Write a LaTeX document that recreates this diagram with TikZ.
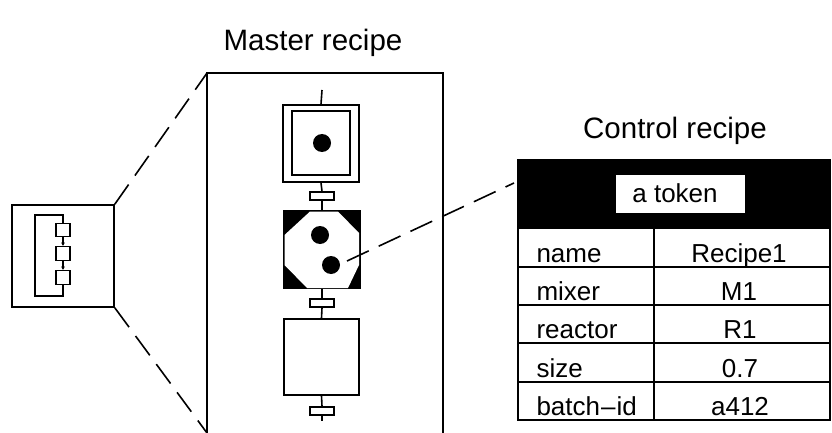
\documentclass[tikz,border=0pt]{standalone}
\usepackage{fontspec}
\setmainfont{Liberation Sans}
\usetikzlibrary{arrows.meta}
\begin{document}
\begin{tikzpicture}[x=1pt,y=-1pt,
  ln/.style={line width=1.6pt},
  thin/.style={line width=1.1pt},
  dashln/.style={line width=1.6pt, dash pattern=on 24pt off 11pt},
  stepbox/.style={draw, line width=1.6pt, rectangle, inner sep=0pt, fill=white},
  trans/.style={draw, line width=1.4pt, rectangle, inner sep=0pt, minimum width=24pt, minimum height=8pt, fill=white},
  tok/.style={circle, fill=black, inner sep=0pt, minimum size=18pt},
  title/.style={font=\fontsize{29.5}{34}\selectfont, anchor=base},
  cell/.style={font=\fontsize{26}{30}\selectfont, anchor=base},
  mini/.style={draw, line width=1.2pt, rectangle, inner sep=0pt, minimum width=14pt, minimum height=13.5pt}
]
\useasboundingbox (0,0) rectangle (832,433);

% titles
\node[title] (tmaster) at (313,51) {Master recipe};
\node[title] (tcontrol) at (675,139) {Control recipe};

% small overview box
\node[draw, line width=1.6pt, rectangle, inner sep=0pt, minimum width=102pt, minimum height=102pt] (small) at (63,256) {};
\node[mini] (m1) at (63,230) {};
\node[mini] (m2) at (63,253.5) {};
\node[mini] (m3) at (63,277.5) {};
\draw[thin] (m1.north) -- (63,215) -- (35,215) -- (35,296) -- (63,296) -- (m3.south);
\draw[thin, -{Latex[length=3.5pt,width=4pt]}] (m1.south) -- (m2.north);
\draw[thin, -{Latex[length=3.5pt,width=4pt]}] (m2.south) -- (m3.north);

% master box
\coordinate (mbl) at (207,433);
\coordinate (mtl) at (207,73);
\coordinate (mtr) at (443,73);
\coordinate (mbr) at (443,433);
\draw[ln] (mbl) -- (mtl) -- (mtr) -- (mbr);

% zoom dashed lines
\draw[dashln] (small.north east) -- (mtl);
\draw[dashln] (small.south east) -- (mbl);

% step 1 (initial step)
\coordinate (topin) at (322,90);
\node[stepbox, minimum width=76pt, minimum height=77pt] (s1) at (321,143.5) {};
\node[stepbox, minimum width=58pt, minimum height=64pt] (s1in) at (321,143) {};
\node[tok] (d1) at (322,143) {};
\draw[ln] (topin) -- (s1.north);

% transition 1
\node[trans] (t1) at (322,196) {};
\draw[ln] (s1.south) -- (t1.north);

% step 2 (active, black square with octagon)
\node[stepbox, fill=black, minimum width=77pt, minimum height=78pt] (s2) at (322,249.5) {};
\fill[white] (310,211.5) -- (338,211.5) -- (359,233) -- (359,265) -- (348,288) -- (307,288) -- (284.5,265) -- (284.5,235) -- cycle;
\node[tok] (d2a) at (320,235) {};
\node[tok] (d2b) at (331,265) {};
\draw[ln] (t1.south) -- (s2.north);

% transition 2
\node[trans] (t2) at (322,303) {};
\draw[ln] (s2.south) -- (t2.north);

% step 3
\node[stepbox, minimum width=75pt, minimum height=76pt] (s3) at (321.5,357) {};
\draw[ln] (t2.south) -- (s3.north);

% transition 3
\node[trans] (t3) at (322,411) {};
\coordinate (botout) at (322,421);
\draw[ln] (s3.south) -- (t3.north);
\draw[ln] (t3.south) -- (botout);

% control recipe table
\fill[black] (518,159) rectangle (830,228);
\node[fill=white, inner sep=0pt, minimum width=129pt, minimum height=38pt] (tokbox) at (680.5,194) {};
\node[cell] (toktext) at (675,202) {a token};
\draw[ln] (518,228) rectangle (830,420);
\draw[ln] (518,159) -- (518,228);
\draw[ln] (830,159) -- (830,228);
\foreach \y in {267,305,343,382} \draw[ln] (518,\y) -- (830,\y);
\draw[ln] (654,228) -- (654,420);

\node[cell, anchor=base west] (k1) at (533,262) {name};
\node[cell, anchor=base west] (k2) at (533,300) {mixer};
\node[cell, anchor=base west] (k3) at (533,338) {reactor};
\node[cell, anchor=base west] (k4) at (533,377) {size};
\node[cell, anchor=base west] (k5) at (533,415) {batch\kern1pt–\kern1pt id};
\node[cell] (v1) at (739,262) {Recipe1};
\node[cell] (v2) at (739,300) {M1};
\node[cell] (v3) at (740,338) {R1};
\node[cell] (v4) at (740,377) {0.7};
\node[cell] (v5) at (740,415) {a412};

% token to control recipe dashed line
\coordinate (tokstart) at (347,261);
\coordinate (tabend) at (514,183);
\draw[dashln] (tokstart) -- (tabend);
\end{tikzpicture}
\end{document}
